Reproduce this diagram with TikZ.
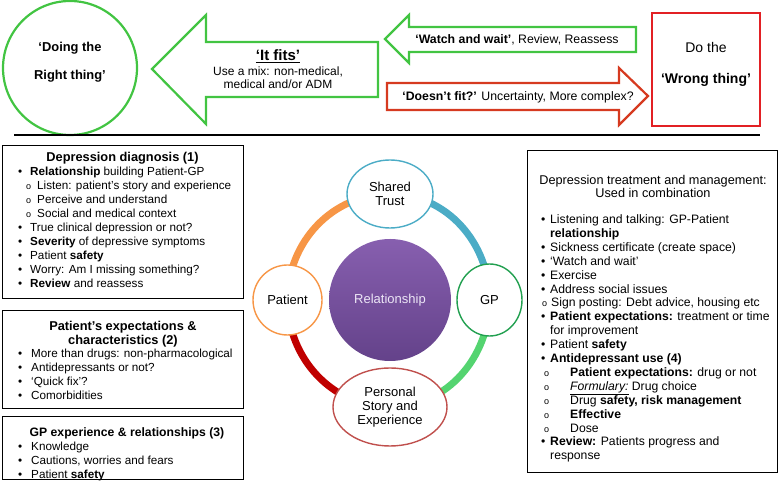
\documentclass[tikz,border=0pt]{standalone}
\usepackage{fontspec}
\setmainfont{Liberation Sans}
\usetikzlibrary{shapes.geometric,backgrounds}

\definecolor{fitgreen}{RGB}{66,196,66}
\definecolor{misfitred}{RGB}{214,58,32}
\definecolor{wrongred}{RGB}{226,32,36}
\definecolor{trustblue}{RGB}{75,172,198}
\definecolor{gpgreen}{RGB}{34,160,80}
\definecolor{gparc}{RGB}{84,212,112}
\definecolor{patorange}{RGB}{247,150,70}
\definecolor{storyred}{RGB}{192,80,77}
\definecolor{storyarc}{RGB}{192,0,0}
\definecolor{reltop}{RGB}{135,95,175}
\definecolor{relbottom}{RGB}{100,66,138}

\newcommand{\dotitem}[2][12pt]{\makebox[#1][l]{\textbullet}#2}
\newcommand{\ringitem}[2][11pt]{\makebox[#1][l]{\fontsize{9}{9}\selectfont o}#2}

\begin{document}
\begin{tikzpicture}[x=1pt, y=1pt,
  listbox/.style={draw, line width=1.2pt, anchor=north west},
  boxtitle/.style={font=\fontsize{12.8}{14}\selectfont\bfseries, align=center, inner sep=0pt},
  boxtext/.style={font=\fontsize{11.7}{14}\selectfont, align=left, inner sep=0pt, anchor=north west},
  ringnode/.style={ellipse, draw, line width=1.4pt, fill=white, inner sep=0pt, align=center, font=\fontsize{13}{13.7}\selectfont},
  ring/.style={line width=7pt},
  arrowtext/.style={font=\fontsize{12.3}{14}\selectfont, inner sep=0pt}
  ]
\useasboundingbox (0,0) rectangle (779,489);

% top: what fits and what does not
\node [circle, draw=fitgreen, line width=2.2pt, minimum size=134pt, inner sep=0pt] (rightring) at (70,421) {};
\node [align=center, font=\fontsize{12.9}{28}\selectfont\bfseries] (righttext) at (70,427) {‘Doing the\\Right thing’};

\draw [fitgreen, line width=2.2pt] (152,420) -- (206,474) -- (206,447) -- (378,447) -- (378,392) -- (206,392) -- (206,365) -- cycle;
\node [font=\fontsize{15}{16}\selectfont\bfseries] (fitstitle) at (278,433) {\underline{‘It fits’}};
\node [align=center, font=\fontsize{12}{13}\selectfont] (fitstext) at (278,411) {Use a mix: non-medical,\\medical and/or ADM};

\draw [fitgreen, line width=2.2pt] (385,450) -- (409,474) -- (409,462) -- (636,462) -- (636,437) -- (409,437) -- (409,426) -- cycle;
\node [arrowtext] (watch) at (517,449) {\textbf{‘Watch and wait’}, Review, Reassess};

\draw [misfitred, line width=2.2pt] (387,406) -- (619,406) -- (619,421) -- (648,393) -- (619,364) -- (619,379) -- (387,379) -- cycle;
\node [arrowtext] (misfit) at (518,392) {\textbf{‘Doesn’t fit?’} Uncertainty, More complex?};

\node [draw=wrongred, line width=2.4pt, minimum width=108pt, minimum height=113pt] (wrong) at (706,419.5) {};
\node [font=\fontsize{14}{16}\selectfont] (dothe) at (706,441) {Do the};
\node [font=\fontsize{14}{16}\selectfont\bfseries] (wrongtext) at (706,409) {‘Wrong thing’};

\draw [line width=2pt] (14,354) -- (760,354);

% left: diagnosis, patient, GP
\node [listbox, minimum width=241pt, minimum height=153pt] (diagbox) at (2,344) {};
\node [boxtitle] (diagtitle) at (122.5,331) {Depression diagnosis (1)};
\node [boxtext] (diaglist) at (18,322.5) {%
\dotitem{\textbf{Relationship} building Patient-GP}\\
\hspace*{8pt}\ringitem{Listen: patient’s story and experience}\\
\hspace*{8pt}\ringitem{Perceive and understand}\\
\hspace*{8pt}\ringitem{Social and medical context}\\
\dotitem{True clinical depression or not?}\\
\dotitem{\textbf{Severity} of depressive symptoms}\\
\dotitem{Patient \textbf{safety}}\\
\dotitem{Worry: Am I missing something?}\\
\dotitem{\textbf{Review} and reassess}};

\node [listbox, minimum width=241pt, minimum height=98pt] (patbox) at (2,179) {};
\node [boxtitle] (pattitle) at (123,155) {Patient’s expectations \&\\characteristics (2)};
\node [boxtext] (patlist) at (18,140.5) {%
\dotitem[13pt]{More than drugs: non-pharmacological}\\
\dotitem[13pt]{Antidepressants or not?}\\
\dotitem[13pt]{‘Quick fix’?}\\
\dotitem[13pt]{Comorbidities}};

\node [listbox, minimum width=241pt, minimum height=63pt] (gpbox) at (2,73) {};
\node [boxtitle, font=\fontsize{12.2}{14}\selectfont\bfseries] (gptitle) at (127,56) {GP experience \& relationships (3)};
\node [boxtext] (gplist) at (18,47.5) {%
\dotitem[13pt]{Knowledge}\\
\dotitem[13pt]{Cautions, worries and fears}\\
\dotitem[13pt]{Patient \textbf{safety}}};

% centre: the relationship cycle
\node [circle, minimum size=122pt, inner sep=0pt, top color=reltop, bottom color=relbottom, text={rgb,255:red,236;green,230;blue,246}, font=\fontsize{13}{14}\selectfont] (rel) at (390,189) {Relationship};
\node [ringnode, draw=trustblue, minimum width=86pt, minimum height=68pt] (trust) at (390,295) {Shared\\Trust};
\node [ringnode, draw=gpgreen, minimum width=65pt, minimum height=72pt] (gp) at (489.5,189) {GP};
\node [ringnode, draw=patorange, minimum width=69pt, minimum height=70pt] (patient) at (287.5,189) {Patient};
\node [ringnode, draw=storyred, minimum width=114pt, minimum height=78pt] (story) at (390,82) {Personal\\Story and\\Experience};
\begin{scope}[on background layer]
\draw [ring, patorange] (trust.center) to[out=180, in=90] (patient.center);
\draw [ring, trustblue] (trust.center) to[out=0, in=90] (gp.center);
\draw [ring, gparc] (gp.center) to[out=-90, in=0] (story.center);
\draw [ring, storyarc] (patient.center) to[out=-90, in=180] (story.center);
\end{scope}

% right: treatment and management
\node [listbox, minimum width=250pt, minimum height=322pt] (treatbox) at (527,339) {};
\node [align=center, inner sep=0pt, font=\fontsize{12.7}{13}\selectfont] (treattitle) at (653,303) {Depression treatment and management:\\Used in combination};
\node [boxtext, font=\fontsize{12.2}{13.9}\selectfont] (treatlist) at (541,274.5) {%
\dotitem[9pt]{Listening and talking: GP-Patient}\\
\hspace*{9pt}\textbf{relationship}\\
\dotitem[9pt]{Sickness certificate (create space)}\\
\dotitem[9pt]{‘Watch and wait’}\\
\dotitem[9pt]{Exercise}\\
\dotitem[9pt]{Address social issues}\\
\hspace*{1pt}\ringitem[9pt]{Sign posting: Debt advice, housing etc}\\
\dotitem[9pt]{\textbf{Patient expectations:} treatment or time}\\
\hspace*{9pt}for improvement\\
\dotitem[9pt]{Patient \textbf{safety}}\\
\dotitem[9pt]{\textbf{Antidepressant use (4)}}\\
\hspace*{3pt}\ringitem[26pt]{\textbf{Patient expectations:} drug or not}\\
\hspace*{3pt}\ringitem[26pt]{\underline{\textit{Formulary:}} Drug choice}\\
\hspace*{3pt}\ringitem[26pt]{Drug \textbf{safety, risk management}}\\
\hspace*{3pt}\ringitem[26pt]{\textbf{Effective}}\\
\hspace*{3pt}\ringitem[26pt]{Dose}\\
\dotitem[9pt]{\textbf{Review:} Patients progress and}\\
\hspace*{9pt}response};
\end{tikzpicture}
\end{document}
